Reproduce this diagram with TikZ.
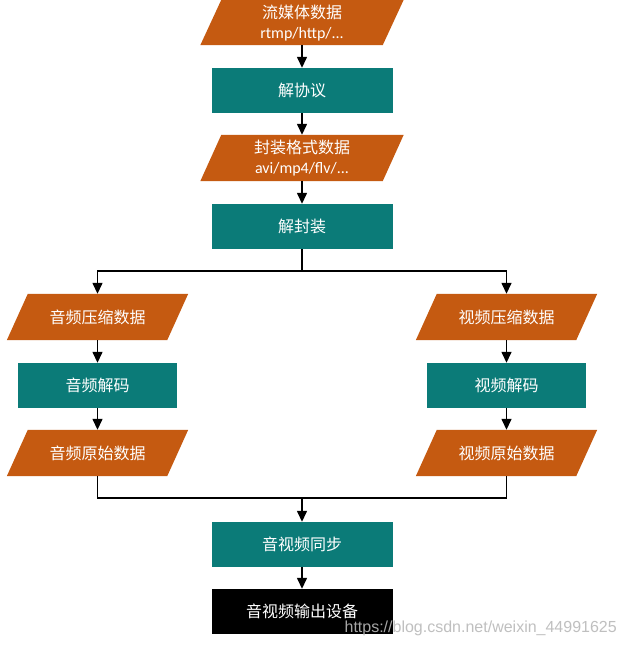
\documentclass[tikz,border=0pt]{standalone}
\usepackage{fontspec}
\setmainfont{Carlito}
\newfontfamily\cjk{Noto Sans CJK SC}
\newfontfamily\wmfont{Liberation Sans}
\usetikzlibrary{arrows.meta,backgrounds}
\definecolor{borange}{HTML}{C55A11}
\definecolor{bteal}{HTML}{0B7B78}
\tikzset{
  base/.style={minimum height=45pt, inner sep=0pt, text=white,
    font=\cjk\fontsize{16}{19}\selectfont, align=center},
  tealbox/.style={base, fill=bteal, minimum width=#1},
  outbox/.style={base, fill=black, minimum width=181pt},
  paranode/.style={base, minimum width=#1},
  conn/.style={line width=1.4pt, -{Triangle[width=10pt,length=11pt]}},
  plain/.style={line width=1.4pt},
}
\newcommand\parafill[1]{\fill[borange] ([xshift=-10.5pt]#1.south west) -- ([xshift=-10.5pt]#1.south east) -- ([xshift=10.5pt]#1.north east) -- ([xshift=10.5pt]#1.north west) -- cycle;}
\begin{document}
\begin{tikzpicture}[x=1pt,y=-1pt]
\useasboundingbox (0,0) rectangle (626,645);
% nodes
\node[paranode=182pt, text depth=1pt] (p1) at (302,22.5) {流媒体数据\\[1pt]{\rmfamily\fontsize{16}{19}\selectfont rtmp/http/...}};
\node[tealbox=181pt] (r1) at (302,90.5) {解协议};
\node[paranode=182pt, minimum height=46pt] (p2) at (302,158) {封装格式数据\\[1pt]{\rmfamily\fontsize{16}{19}\selectfont avi/mp4/flv/...}};
\node[tealbox=181pt] (r2) at (302,226.5) {解封装};
\node[paranode=160pt, minimum height=46pt] (pl) at (97.5,317) {音频压缩数据};
\node[paranode=160pt, minimum height=46pt] (pr) at (506.5,317) {视频压缩数据};
\node[tealbox=159pt] (rl) at (97.5,385.5) {音频解码};
\node[tealbox=159pt] (rr) at (506.5,385.5) {视频解码};
\node[paranode=160pt, minimum height=46pt] (ql) at (97.5,453) {音频原始数据};
\node[paranode=160pt, minimum height=46pt] (qr) at (506.5,453) {视频原始数据};
\node[tealbox=181pt] (sync) at (302,544.5) {音视频同步};
\node[outbox] (out) at (302,611.5) {音视频输出设备};
\coordinate (split) at (302,271);
\coordinate (join) at (302,498);
\begin{pgfonlayer}{background}
\fill[white] (0,0) rectangle (626,645);
\parafill{p1}\parafill{p2}\parafill{pl}\parafill{pr}\parafill{ql}\parafill{qr}
\end{pgfonlayer}
% connectors
\draw[conn] (p1) -- (r1);
\draw[conn] (r1) -- (p2);
\draw[conn] (p2) -- (r2);
\draw[plain] (r2.south) -- (split);
\draw[conn] (split) -| (pl);
\draw[conn] (split) -| (pr);
\draw[conn] (pl) -- (rl);
\draw[conn] (rl) -- (ql);
\draw[conn] (pr) -- (rr);
\draw[conn] (rr) -- (qr);
\draw[plain] (ql.south) |- (join);
\draw[plain] (qr.south) |- (join);
\draw[conn] (join) -- (sync);
\draw[conn] (sync) -- (out);
% watermark
\node[anchor=base east, inner sep=0pt, text=gray!55, opacity=0.9,
  font=\wmfont\fontsize{16}{18}\selectfont] (wm) at (617,632) {https://blog.csdn.net/weixin\_44991625};
\end{tikzpicture}
\end{document}
